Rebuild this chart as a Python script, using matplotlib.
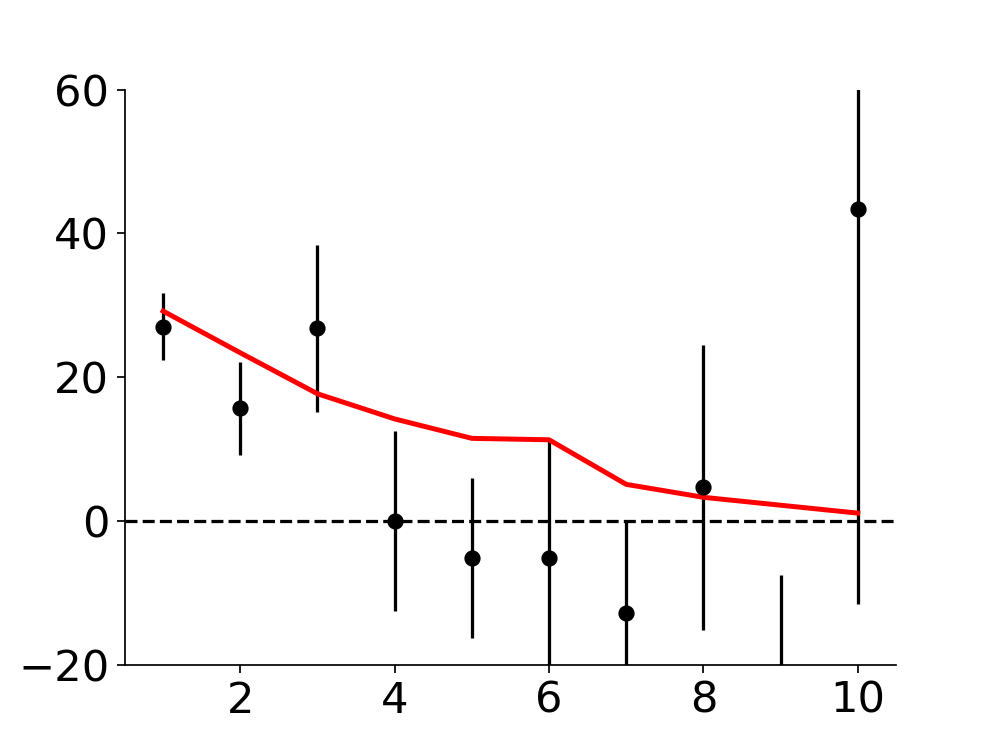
import matplotlib
matplotlib.use("Agg")
import matplotlib.pyplot as plt
import numpy as np

# observed values with symmetric errors
x = [1, 2, 3, 4, 5, 6, 7, 8, 9, 10]
obs = [27.0, 15.7, 26.8, 0.0, -5.1, -5.1, -12.8, 4.7, -35.0, 43.4]
err = [4.65, 6.45, 11.6, 12.5, 11.1, 16.4, 12.9, 19.8, 27.5, 55.0]

# fitted curve
fit = [29.2, 23.4, 17.7, 14.2, 11.5, 11.3, 5.1, 3.3, 2.2, 1.1]

plt.rcParams['font.size'] = 20

fig, ax = plt.subplots(figsize=(6.4, 4.8))

ax.errorbar(x, obs, yerr=err, fmt='o', color='black', ms=6.5, elinewidth=1.5, capsize=0)
ax.plot(x, fit, color='red', lw=2.3)
ax.axhline(0, color='black', ls='--', lw=1.5)

ax.set_xlim(0.5, 10.5)
ax.set_ylim(-20, 60)
ax.set_xticks([2, 4, 6, 8, 10])
ax.set_yticks([-20, 0, 20, 40, 60])
ax.spines['top'].set_visible(False)
ax.spines['right'].set_visible(False)

fig.savefig("out.png", dpi=155.625)
